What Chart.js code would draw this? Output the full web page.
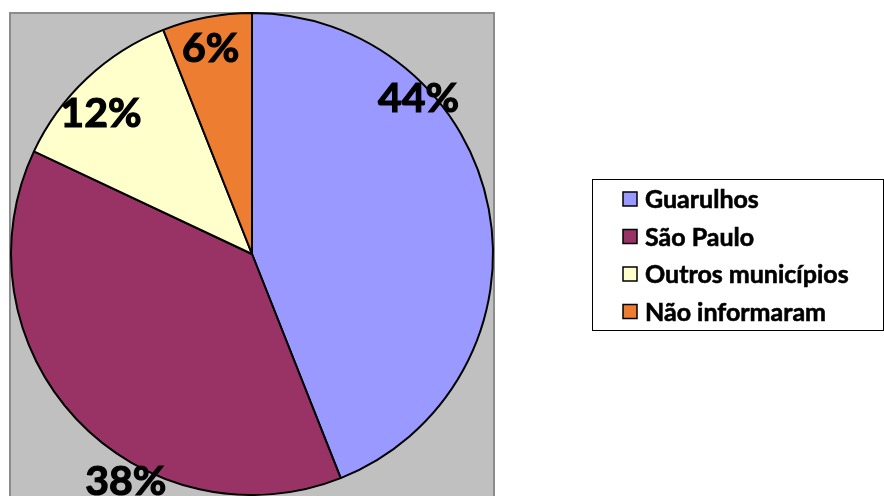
<!DOCTYPE html>
<html>
<head>
<meta charset="utf-8">
<script src="https://cdn.jsdelivr.net/npm/chart.js@4.4.1/dist/chart.umd.min.js"></script>
<style>
  body { margin: 0; background: #fff; }
  canvas { display: block; }
</style>
</head>
<body>
<canvas id="myChart" width="884" height="496"></canvas>
<script>
// data
const categories = ["Guarulhos", "São Paulo", "Outros municípios", "Não informaram"];
const shares = [44, 38, 12, 6];
const sliceColors = ["#9999ff", "#993366", "#ffffcc", "#ed7d31"];

// where each % label sits: fraction along the slice angle, fraction of radius
const labelSpots = [[0.295, 0.949], [0.371, 1.075], [0.417, 0.86], [0.477, 0.876]];

const FONT = "Lato, 'Open Sans', sans-serif";

// gray plot area behind the pie
const plotBg = {
  id: "plotBg",
  beforeDraw(chart) {
    const ctx = chart.ctx;
    const a = chart.chartArea;
    ctx.save();
    ctx.fillStyle = "#c0c0c0";
    ctx.fillRect(a.left, a.top + 1, a.right - a.left, a.bottom - a.top);
    ctx.strokeStyle = "#8c8c8c";
    ctx.lineWidth = 2;
    ctx.strokeRect(a.left, a.top + 1, a.right - a.left, a.bottom - a.top + 4);
    ctx.restore();
  }
};

// % labels
const pctLabels = {
  id: "pctLabels",
  afterDatasetsDraw(chart) {
    const ctx = chart.ctx;
    const meta = chart.getDatasetMeta(0);
    const vals = chart.data.datasets[0].data;
    const total = vals.reduce((s, v) => s + v, 0);
    const size = 41;
    ctx.save();
    ctx.font = "bold " + size + "px " + FONT;
    ctx.fillStyle = "#000";
    ctx.strokeStyle = "#000";
    ctx.lineWidth = 1.2;
    ctx.textAlign = "center";
    ctx.textBaseline = "alphabetic";
    meta.data.forEach((arc, i) => {
      const p = arc.getProps(["x", "y", "startAngle", "endAngle", "outerRadius"], true);
      const spot = labelSpots[i];
      const ang = p.startAngle + spot[0] * (p.endAngle - p.startAngle);
      const r = p.outerRadius * spot[1];
      const tx = p.x + Math.cos(ang) * r;
      const ty = p.y + Math.sin(ang) * r + size * 0.36;
      const txt = Math.round(vals[i] / total * 100) + "%";
      ctx.fillText(txt, tx, ty);
      ctx.strokeText(txt, tx, ty);
    });
    ctx.restore();
  }
};

// boxed legend on the right
const boxLegend = {
  id: "boxLegend",
  afterDraw(chart) {
    const ctx = chart.ctx;
    const colors = chart.data.datasets[0].backgroundColor;
    ctx.save();
    ctx.strokeStyle = "#000";
    ctx.lineWidth = 1;
    ctx.strokeRect(592.5, 179.5, 291, 151);
    ctx.font = "bold 25px " + FONT;
    ctx.textAlign = "left";
    ctx.textBaseline = "alphabetic";
    chart.data.labels.forEach((lab, i) => {
      const cy = 199 + i * 37.5;
      ctx.fillStyle = colors[i];
      ctx.fillRect(623, cy - 7, 14, 14);
      ctx.lineWidth = 1.5;
      ctx.strokeRect(623, cy - 7, 14, 14);
      ctx.fillStyle = "#000";
      ctx.lineWidth = 0.6;
      ctx.fillText(lab, 645, cy + 9);
      ctx.strokeText(lab, 645, cy + 9);
    });
    ctx.restore();
  }
};

const ctx = document.getElementById("myChart");

const chart = new Chart(ctx, {
  type: "pie",
  data: {
    labels: categories,
    datasets: [{
      data: shares,
      backgroundColor: sliceColors,
      borderColor: "#000",
      borderWidth: 2
    }]
  },
  options: {
    responsive: false,
    animation: false,
    devicePixelRatio: 1,
    layout: { padding: { left: 10, top: 12, right: 390, bottom: 0 } },
    plugins: {
      legend: { display: false },
      tooltip: { enabled: false }
    }
  },
  plugins: [plotBg, pctLabels, boxLegend]
});
</script>
</body>
</html>
